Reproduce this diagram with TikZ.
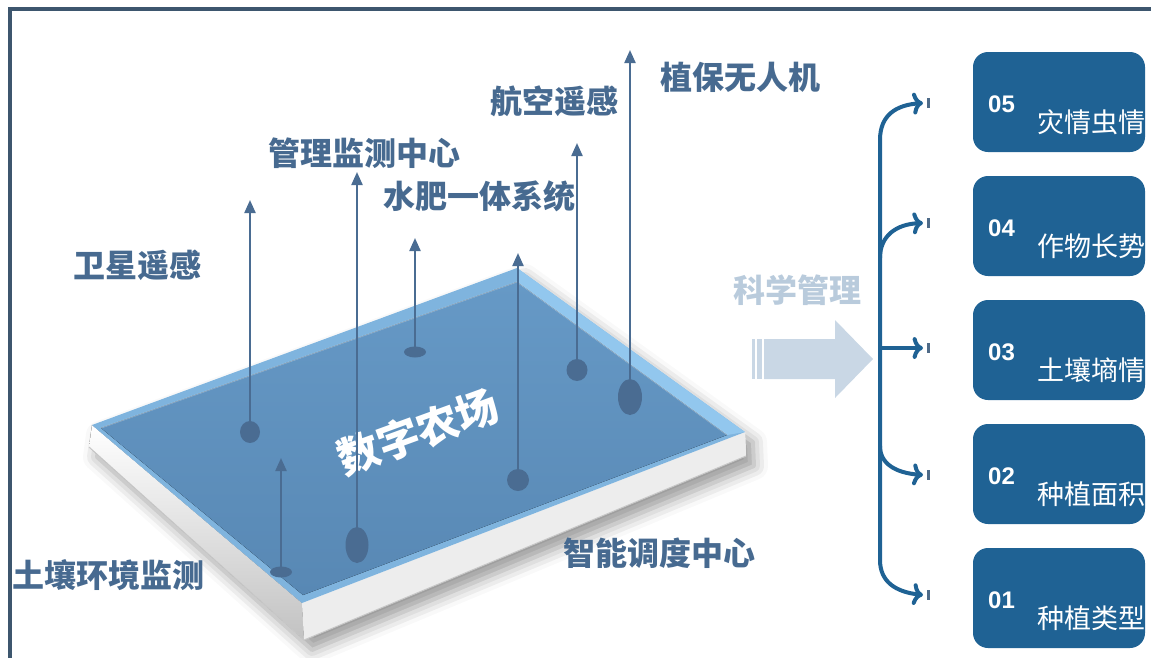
\documentclass[tikz,border=0pt]{standalone}
\usepackage{fontspec}
\setmainfont{Noto Sans CJK SC}
\newfontfamily\numfont{Liberation Sans}
\usetikzlibrary{arrows.meta,shapes.geometric,shadows.blur}

\definecolor{labelblue}{HTML}{476A90}
\definecolor{stemblue}{HTML}{4A6C92}
\definecolor{boxblue}{HTML}{1F6294}
\definecolor{paleblue}{HTML}{C9D7E5}
\definecolor{scigrey}{HTML}{B9CBDC}
\definecolor{framegrey}{HTML}{3D566E}
\definecolor{rimblue}{HTML}{7FB4DE}
\definecolor{rimlight}{HTML}{92C7EE}
\definecolor{faceblue}{HTML}{5888B4}
\definecolor{facelight}{HTML}{6699C6}
\definecolor{tickgrey}{HTML}{4F6B88}

\newcommand{\sitefont}{\fontsize{32}{32}\selectfont\bfseries}
\newcommand{\farmfont}{\fontsize{42}{42}\selectfont\bfseries}
\newcommand{\itemfont}{\fontsize{27}{27}\selectfont}
\newcommand{\idfont}{\numfont\fontsize{24}{24}\selectfont\bfseries}

\begin{document}
\begin{tikzpicture}[x=1pt, y=-1pt,
	site/.style = {text = labelblue, font = \sitefont, inner sep = 0pt},
	pin/.style = {ellipse, fill = stemblue, inner sep = 0pt},
	stem/.style = {stemblue, line width = 2.2pt, -{Triangle[length = 13pt, width = 11pt]}},
	branch/.style = {boxblue, line width = 4pt, -{Straight Barb[length = 9pt, width = 16pt]}},
	tickbar/.style = {tickgrey, line width = 3pt},
	panel/.style = {fill = boxblue, rounded corners = 15pt, minimum width = 172pt, minimum height = 100pt},
	code/.style = {text = white, font = \idfont, inner sep = 0pt, anchor = west},
	item/.style = {text = white, font = \itemfont, inner sep = 0pt, anchor = east}]
	\useasboundingbox (0,0) rectangle (1151,657);
	\draw[framegrey, line width = 3.5pt] (10,660) -- (10,9) -- (1155,9);

	% the slab
	\coordinate (L) at (92,425);
	\coordinate (T) at (517,268);
	\coordinate (R) at (745,432);
	\coordinate (B) at (302,603);
	\coordinate (Lb) at (89,447);
	\coordinate (Rb) at (746,456);
	\coordinate (Bb) at (304,640);
	\fill[white, blur shadow = {shadow xshift = 8pt, shadow yshift = -10pt, shadow blur radius = 14pt, shadow opacity = 40}]
		(L) -- (T) -- (R) -- (Rb) -- (Bb) -- (Lb) -- cycle;
	\fill[top color = white, bottom color = black!24] (L) -- (B) -- (Bb) -- (Lb) -- cycle;
	\fill[black!7] (B) -- (R) -- (Rb) -- (Bb) -- cycle;
	\draw[black!22, line width = 1pt] (Lb) -- (Bb) -- (Rb);
	\fill[rimblue] (L) -- (T) -- (R) -- (B) -- cycle;
	\fill[rimlight] (T) -- (R) -- (727,435) -- (517,282) -- cycle;
	\fill[top color = facelight, bottom color = faceblue]
		(101,428) -- (517,282) -- (727,435) -- (303,595) -- cycle;
	\draw[white, opacity = .35, line width = .8pt] (101,428) -- (517,282) -- (727,435);
	\node[rotate = 20, text = white, font = \farmfont, inner sep = 0pt] (farm) at (418,432) {数字农场};

	% what stands on the farm
	\node[pin, minimum width = 20pt, minimum height = 22pt] (p1) at (250,432) {};
	\node[pin, minimum width = 23pt, minimum height = 36pt] (p2) at (357,545) {};
	\node[pin, minimum width = 22pt, minimum height = 11pt] (p3) at (415,352) {};
	\node[pin, minimum width = 22pt, minimum height = 22pt] (p4) at (518,480) {};
	\node[pin, minimum width = 21pt, minimum height = 22pt] (p5) at (577,370) {};
	\node[pin, minimum width = 24pt, minimum height = 36pt] (p6) at (630,397) {};
	\node[pin, minimum width = 22pt, minimum height = 11pt] (p7) at (281,572) {};
	\coordinate (t1) at (250,200);
	\coordinate (t2) at (357,172);
	\coordinate (t3) at (415,238);
	\coordinate (t4) at (518,253);
	\coordinate (t5) at (577,143);
	\coordinate (t6) at (630,50);
	\coordinate (t7) at (281,458);
	\draw[stem] (p1.center) -- (t1);
	\draw[stem] (p2.center) -- (t2);
	\draw[stem] (p3.center) -- (t3);
	\draw[stem] (p4.center) -- (t4);
	\draw[stem] (p5.center) -- (t5);
	\draw[stem] (p6.center) -- (t6);
	\draw[stem] (p7.center) -- (t7);

	\node[site, anchor = west] (sat) at (73,265) {卫星遥感};
	\node[site, anchor = west] (mon) at (268,153) {管理监测中心};
	\node[site, anchor = west] (fert) at (383,196) {水肥一体系统};
	\node[site, anchor = west] (air) at (490,101) {航空遥感};
	\node[site, anchor = west] (uav) at (660,77) {植保无人机};
	\node[site, anchor = west] (soil) at (12,575) {土壤环境监测};
	\node[site, anchor = west] (disp) at (563,553) {智能调度中心};

	% management arrow
	\node[site, anchor = west, text = scigrey] (sci) at (733,290) {科学管理};
	\fill[paleblue] (752,339) rectangle (755,379);
	\fill[paleblue] (757,339) rectangle (762,379);
	\fill[paleblue] (764,339) -- (835,339) -- (835,320) -- (873,359) -- (835,398) -- (835,379) -- (764,379) -- cycle;

	% bracket
	\coordinate (e5) at (923,103);
	\coordinate (e4) at (923,223);
	\coordinate (e3) at (923,348);
	\coordinate (e2) at (923,475);
	\coordinate (e1) at (923,595);
	\draw[branch, <->] (e5) .. controls (896,105) and (880,115) .. (880,140)
		-- (880,560) .. controls (880,582) and (896,592) .. (e1);
	\draw[branch, ->] (880,258) .. controls (880,236) and (896,224) .. (e4);
	\draw[branch, ->] (880,348) -- (e3);
	\draw[branch, ->] (880,446) .. controls (880,464) and (896,473) .. (e2);
	\draw[tickbar] ([xshift = 5pt, yshift = 5pt]e5) -- ([xshift = 5pt, yshift = -5pt]e5);
	\draw[tickbar] ([xshift = 5pt, yshift = 5pt]e4) -- ([xshift = 5pt, yshift = -5pt]e4);
	\draw[tickbar] ([xshift = 5pt, yshift = 5pt]e3) -- ([xshift = 5pt, yshift = -5pt]e3);
	\draw[tickbar] ([xshift = 5pt, yshift = 5pt]e2) -- ([xshift = 5pt, yshift = -5pt]e2);
	\draw[tickbar] ([xshift = 5pt, yshift = 5pt]e1) -- ([xshift = 5pt, yshift = -5pt]e1);

	% panels
	\node[panel] (b05) at (1059,102) {};
	\node[code] (n05) at (988,104) {05};
	\node[item] (l05) at (1146,122) {灾情虫情};
	\node[panel] (b04) at (1059,226) {};
	\node[code] (n04) at (988,228) {04};
	\node[item] (l04) at (1146,246) {作物长势};
	\node[panel] (b03) at (1059,350) {};
	\node[code] (n03) at (988,352) {03};
	\node[item] (l03) at (1146,370) {土壤墒情};
	\node[panel] (b02) at (1059,474) {};
	\node[code] (n02) at (988,476) {02};
	\node[item] (l02) at (1146,494) {种植面积};
	\node[panel] (b01) at (1059,598) {};
	\node[code] (n01) at (988,600) {01};
	\node[item] (l01) at (1146,618) {种植类型};
\end{tikzpicture}
\end{document}
